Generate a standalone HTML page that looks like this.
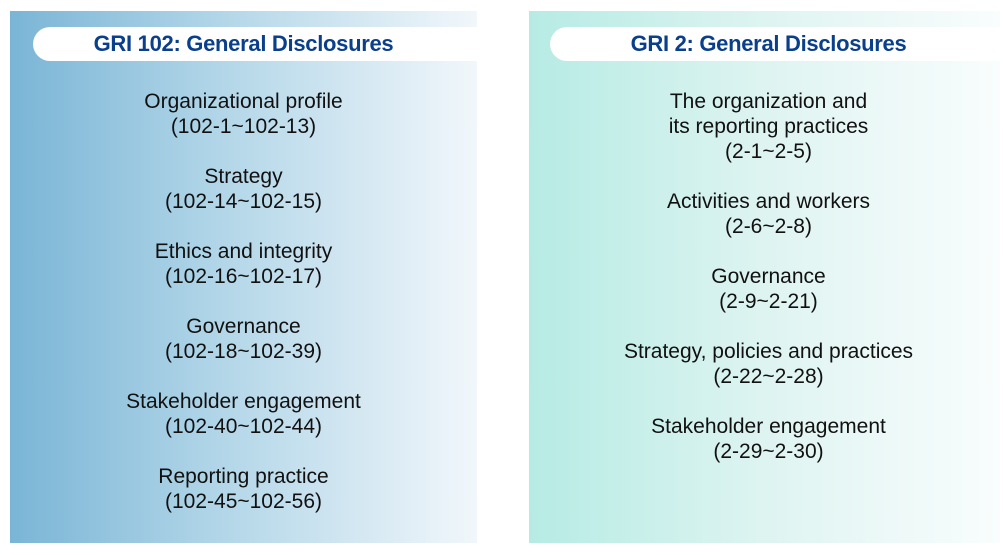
<!DOCTYPE html>
<html><head><meta charset="utf-8"><style>
body{margin:0;width:1003px;height:555px;background:#fff;position:relative;overflow:hidden;font-family:"Liberation Sans",sans-serif}
.panel{position:absolute;top:11px;height:532px;overflow:hidden}
#l{left:10px;width:467px;background:linear-gradient(to right,#7ab5d6,#b2d6e8 45%,#f1f7fb)}
#r{left:529px;width:471px;background:linear-gradient(to right,#b6ebe4,#def4f1 50%,#f9fdfd)}
.pill{position:absolute;top:16px;height:34px;right:-20px;background:#fff;border-radius:17px}
.title{position:absolute;top:16px;height:34px;line-height:34px;font-size:22px;font-weight:bold;color:#0a3f8c;text-align:center;width:100%;letter-spacing:-0.3px}
.t{position:absolute;width:100%;text-align:center;font-size:21px;line-height:25px;color:#111}
</style></head><body>
<div class="panel" id="l">
<div class="pill" style="left:23px"></div>
<div class="title" style="left:0px">GRI 102: General Disclosures</div>
<div class="t" style="top:78px">Organizational profile<br>(102-1~102-13)</div>
<div class="t" style="top:153px">Strategy<br>(102-14~102-15)</div>
<div class="t" style="top:228px">Ethics and integrity<br>(102-16~102-17)</div>
<div class="t" style="top:303px">Governance<br>(102-18~102-39)</div>
<div class="t" style="top:378px">Stakeholder engagement<br>(102-40~102-44)</div>
<div class="t" style="top:453px">Reporting practice<br>(102-45~102-56)</div>
</div>
<div class="panel" id="r">
<div class="pill" style="left:21px"></div>
<div class="title" style="left:4px">GRI 2: General Disclosures</div>
<div class="t" style="top:78px;left:4px">The organization and<br>its reporting practices<br>(2-1~2-5)</div>
<div class="t" style="top:178px;left:4px">Activities and workers<br>(2-6~2-8)</div>
<div class="t" style="top:253px;left:4px">Governance<br>(2-9~2-21)</div>
<div class="t" style="top:328px;left:4px">Strategy, policies and practices<br>(2-22~2-28)</div>
<div class="t" style="top:403px;left:4px">Stakeholder engagement<br>(2-29~2-30)</div>
</div>
</body></html>
